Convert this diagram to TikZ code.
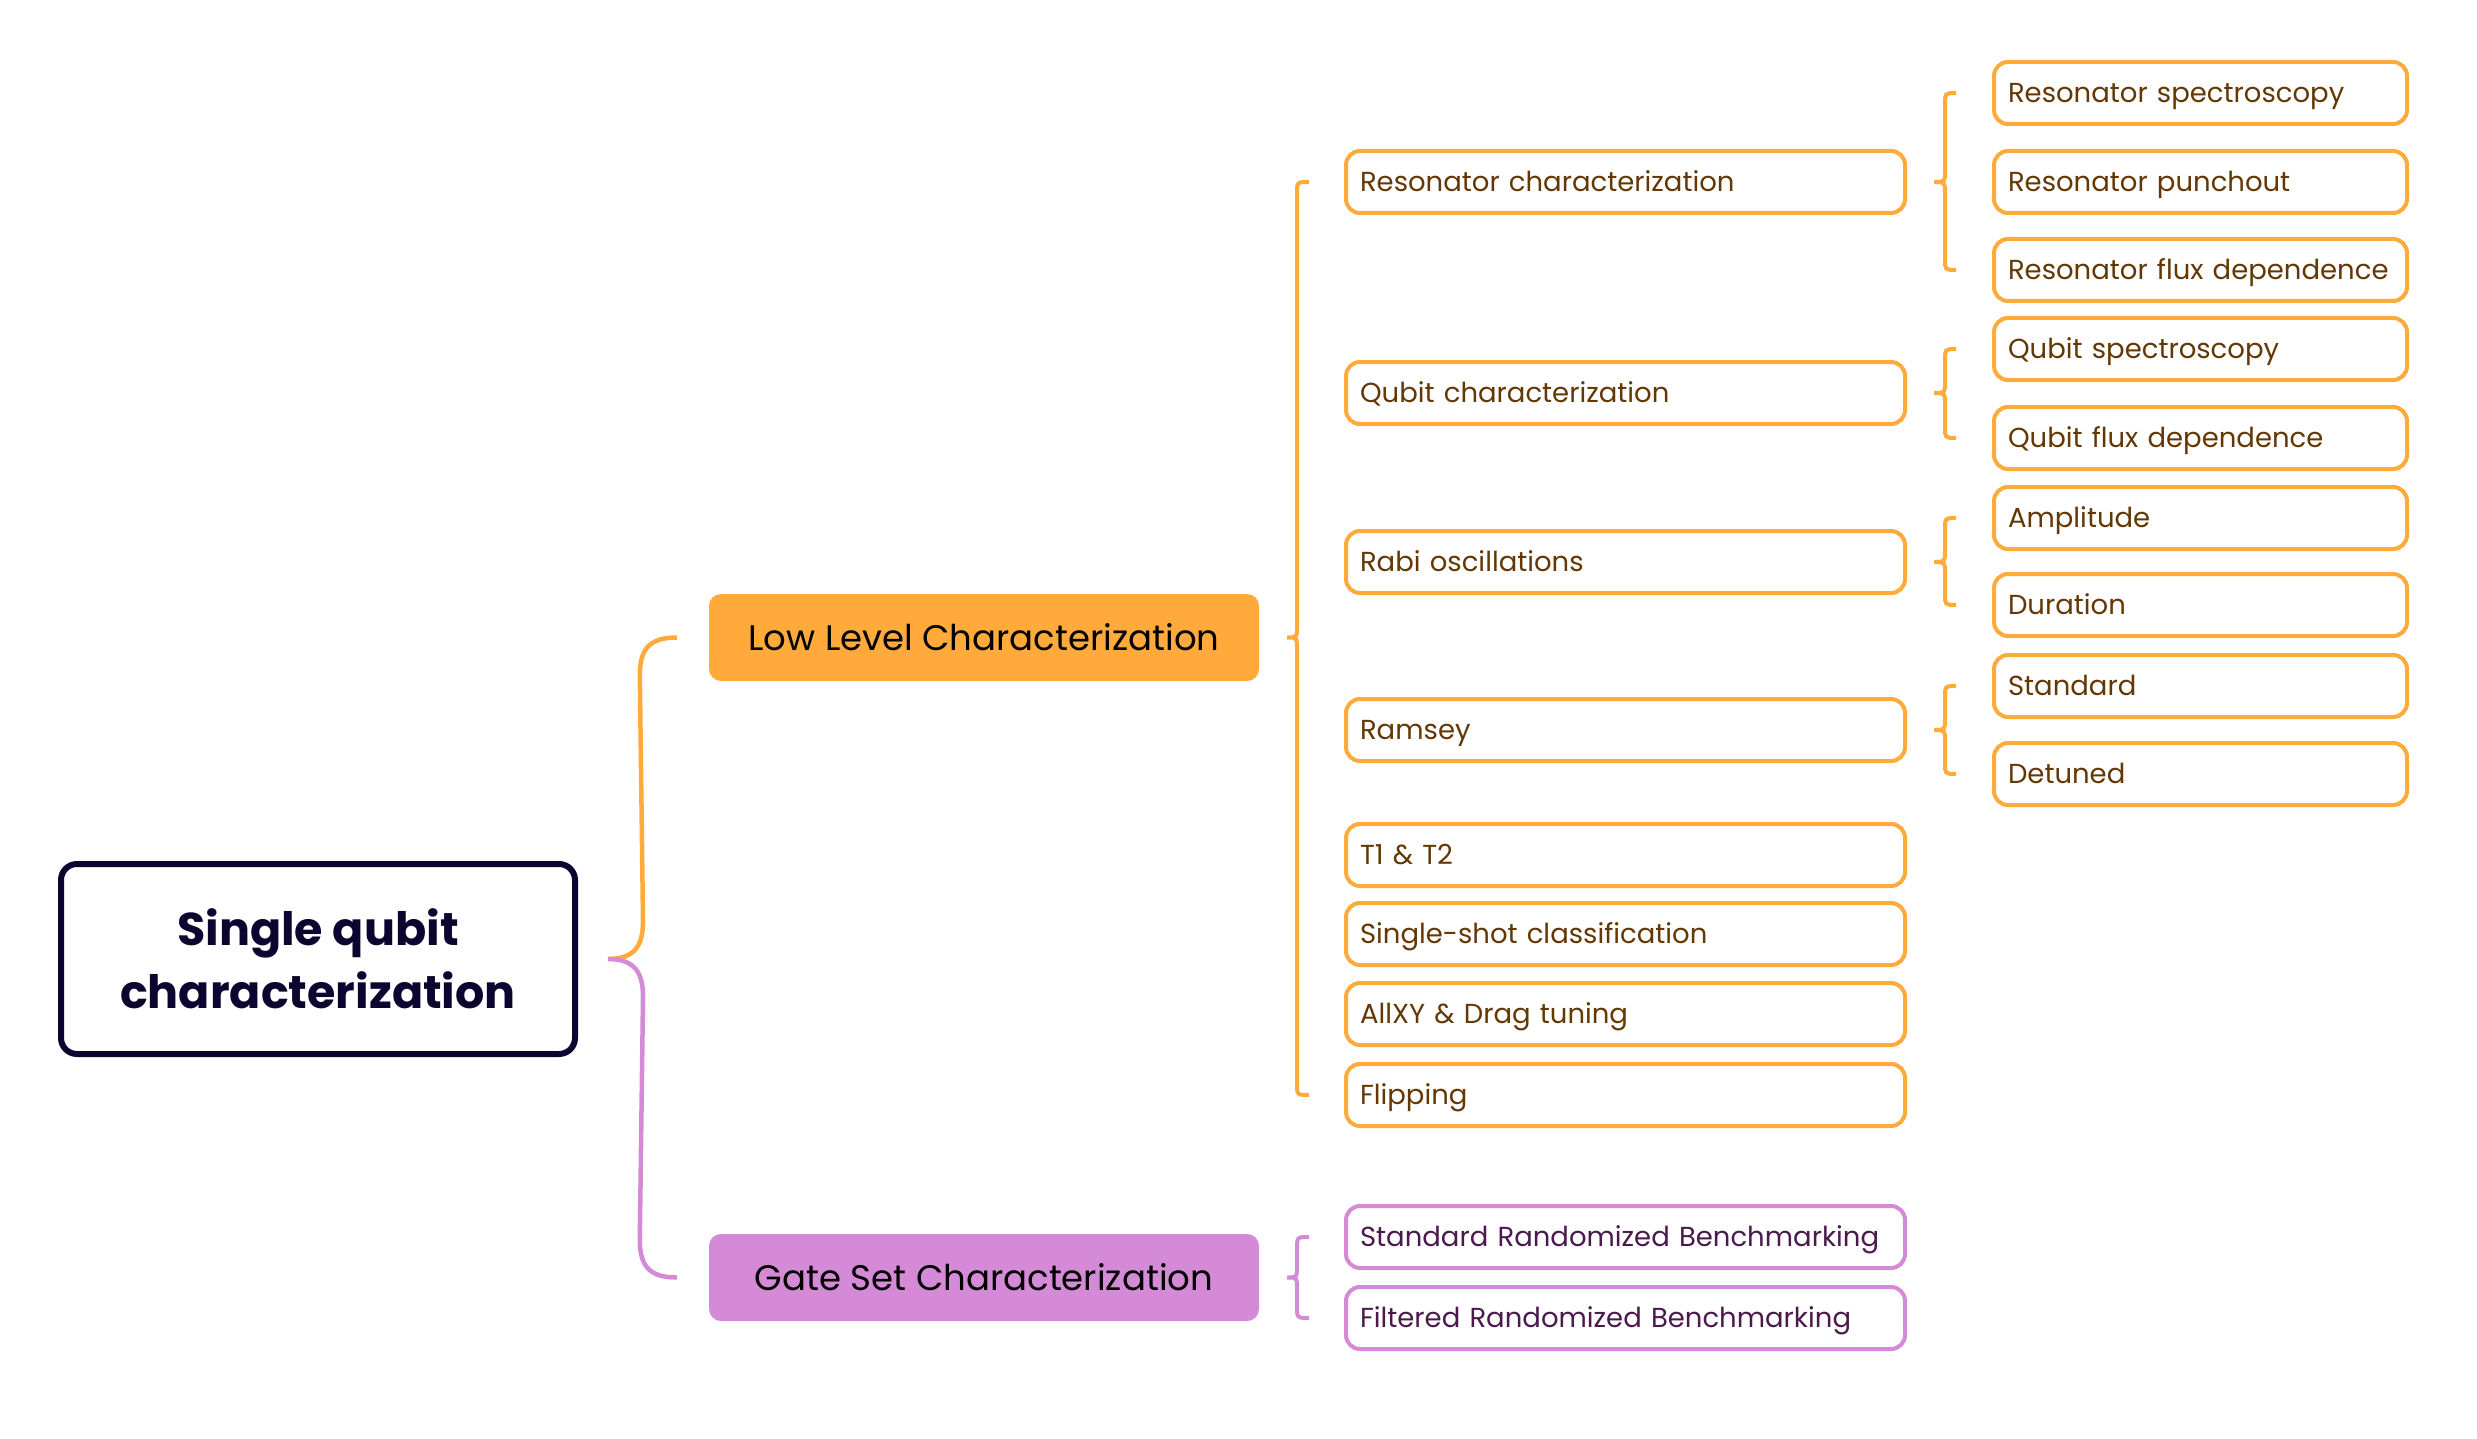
\documentclass[tikz,border=0pt]{standalone}
\usepackage{fontspec}
\setmainfont{Poppins}
\usetikzlibrary{calc}
\definecolor{orng}{HTML}{FFAA3B}
\definecolor{purp}{HTML}{D48AD6}
\definecolor{navy}{HTML}{0B0530}
\definecolor{brn}{HTML}{633805}
\definecolor{dpurp}{HTML}{4A1A4C}
% #1 style, #2 tip, #3 top end, #4 bottom end, #5 radius
\newcommand{\mybrace}[5]{%
  \draw[#1] let \p1=#2, \p2=#3, \p3=#4, \n1={\x2-#5} in
    (\x2,\y2) .. controls (\n1,\y2) .. (\n1,\y2-#5)
    -- (\n1,\y1+#5) .. controls (\n1,\y1) .. (\x1,\y1)
    .. controls (\n1,\y1) .. (\n1,\y1-#5)
    -- (\n1,\y3+#5) .. controls (\n1,\y3) .. (\x3,\y3);}
\begin{document}
\begin{tikzpicture}[x=1pt,y=-1pt,
  rootbox/.style={draw=navy, line width=6pt, rounded corners=16pt, minimum width=514pt, minimum height=190pt, inner sep=0pt, align=center, text=navy, font=\fontsize{46}{63}\selectfont\bfseries},
  lonebox/.style={rounded corners=12pt, minimum width=550pt, minimum height=87pt, inner sep=0pt, text=black, text height=27pt, text depth=2pt, font=\fontsize{35.5}{40}\selectfont},
  ltwobox/.style={draw=orng, line width=4pt, rounded corners=14pt, minimum width=559pt, minimum height=62pt, inner xsep=14pt, inner ysep=0pt, text width=531pt, text height=22pt, text depth=2.8pt, align=left, text=brn, font=\fontsize{27.5}{32}\selectfont},
  lthreebox/.style={ltwobox, minimum width=413pt, text width=385pt},
  pbox/.style={ltwobox, draw=purp, text=dpurp},
  obrace/.style={draw=orng, line width=4pt},
  pbrace/.style={draw=purp, line width=4pt}
]
\useasboundingbox (0,0) rectangle (2477,1439);

\node[rootbox] (root) at (318,959) {Single qubit\\characterization};

\node[lonebox, fill=orng] (low) at (984,637.5) {Low Level Characterization};
\node[lonebox, fill=purp] (gate) at (984,1277.5) {Gate Set Characterization};

\node[ltwobox] (rc) at (1625.5,182) {Resonator characterization};
\node[ltwobox] (qc) at (1625.5,393) {Qubit characterization};
\node[ltwobox] (rabi) at (1625.5,562) {Rabi oscillations};
\node[ltwobox] (ram) at (1625.5,730) {Ramsey};
\node[ltwobox] (tt) at (1625.5,855) {T1 \& T2};
\node[ltwobox] (ss) at (1625.5,934) {Single-shot classification};
\node[ltwobox] (ax) at (1625.5,1014) {AllXY \& Drag tuning};
\node[ltwobox] (fl) at (1625.5,1095) {Flipping};

\node[pbox] (srb) at (1625.5,1237) {Standard Randomized Benchmarking};
\node[pbox] (frb) at (1625.5,1318) {Filtered Randomized Benchmarking};

\node[lthreebox] (rs) at (2200.5,93) {Resonator spectroscopy};
\node[lthreebox] (rp) at (2200.5,182) {Resonator punchout};
\node[lthreebox] (rf) at (2200.5,270) {Resonator flux dependence};
\node[lthreebox] (qs) at (2200.5,349) {Qubit spectroscopy};
\node[lthreebox] (qf) at (2200.5,438) {Qubit flux dependence};
\node[lthreebox] (am) at (2200.5,518) {Amplitude};
\node[lthreebox] (du) at (2200.5,605) {Duration};
\node[lthreebox] (st) at (2200.5,686) {Standard};
\node[lthreebox] (de) at (2200.5,774) {Detuned};

% root braces
\draw[orng, line width=4.5pt] ([xshift=30pt]root.east) .. controls ([xshift=58pt]root.east) and ([xshift=65pt,yshift=15pt]root.east) .. ([xshift=65pt,yshift=38pt]root.east)
  -- ([xshift=-69pt,yshift=-38pt]low.west) .. controls ([xshift=-69pt,yshift=-12pt]low.west) and ([xshift=-60pt]low.west) .. ([xshift=-32pt]low.west);
\draw[purp, line width=4.5pt] ([xshift=30pt]root.east) .. controls ([xshift=58pt]root.east) and ([xshift=65pt,yshift=-15pt]root.east) .. ([xshift=65pt,yshift=-38pt]root.east)
  -- ([xshift=-69pt,yshift=38pt]gate.west) .. controls ([xshift=-69pt,yshift=12pt]gate.west) and ([xshift=-60pt]gate.west) .. ([xshift=-32pt]gate.west);

% level one braces
\mybrace{obrace}{([xshift=28pt]low.east)}{([xshift=-35pt]rc.west)}{([xshift=-35pt]fl.west)}{12pt}
\mybrace{pbrace}{([xshift=28pt]gate.east)}{([xshift=-35pt]srb.west)}{([xshift=-35pt]frb.west)}{12pt}

% level two braces
\mybrace{obrace}{([xshift=27pt]rc.east)}{([xshift=-36pt]rs.west)}{([xshift=-36pt]rf.west)}{11pt}
\mybrace{obrace}{([xshift=27pt]qc.east)}{([xshift=-36pt]qs.west)}{([xshift=-36pt]qf.west)}{11pt}
\mybrace{obrace}{([xshift=27pt]rabi.east)}{([xshift=-36pt]am.west)}{([xshift=-36pt]du.west)}{11pt}
\mybrace{obrace}{([xshift=27pt]ram.east)}{([xshift=-36pt]st.west)}{([xshift=-36pt]de.west)}{11pt}
\end{tikzpicture}
\end{document}
